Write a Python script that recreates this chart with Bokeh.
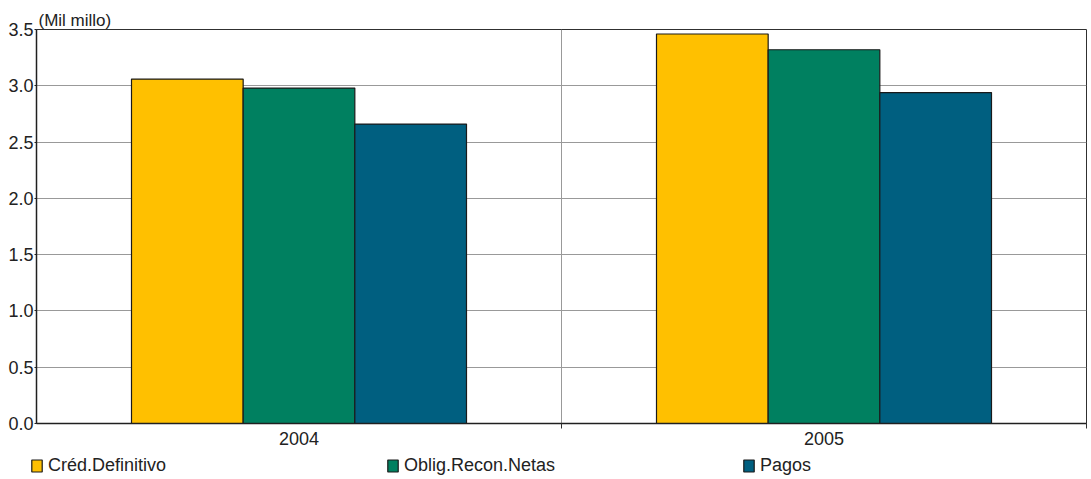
from bokeh.plotting import figure
from bokeh.layouts import column
from bokeh.models import (ColumnDataSource, FixedTicker, PrintfTickFormatter,
                          Legend, LegendItem, Range1d)
from bokeh.embed import file_html
from bokeh.resources import INLINE

years = ["2004", "2005"]
cred_definitivo = [3.06, 3.46]
oblig_recon_netas = [2.98, 3.32]
pagos = [2.66, 2.94]
series_names = ["Créd.Definitivo", "Oblig.Recon.Netas", "Pagos"]
colors = ["#FFC000", "#008060", "#005F80"]
y_ticks = [0.0, 0.5, 1.0, 1.5, 2.0, 2.5, 3.0, 3.5]
unit_label = "(Mil millo)"

FONT = "Liberation Sans"
BAR_W = 0.2127
TXT = "#222222"

p = figure(width=1091, height=452, output_backend="svg", toolbar_location=None,
           x_range=Range1d(0, len(years)), y_range=Range1d(0, 3.5),
           min_border_left=36, min_border_right=5, min_border_top=29, min_border_bottom=29,
           title=unit_label)
p.background_fill_color = "white"
p.border_fill_color = "white"
p.outline_line_color = "#303030"
p.outline_line_width = 1

p.title.text_font = FONT
p.title.text_font_size = "17px"
p.title.text_font_style = "normal"
p.title.text_color = TXT
p.title.align = "left"
p.title.offset = 2
p.title.standoff = 0

centers = [i + 0.5 for i in range(len(years))]
for k, (vals, col) in enumerate(zip([cred_definitivo, oblig_recon_netas, pagos], colors)):
    src = ColumnDataSource(dict(x=[c + (k - 1) * BAR_W for c in centers], top=vals))
    p.vbar(x="x", top="top", width=BAR_W, bottom=0, source=src,
           fill_color=col, line_color="#1a1a1a", line_width=1.2)

# x axis
p.xaxis.ticker = FixedTicker(ticks=centers, minor_ticks=[1, 2])
p.xaxis.major_label_overrides = {c: y for c, y in zip(centers, years)}
p.xaxis.major_tick_line_color = None
p.xaxis.minor_tick_line_color = "#303030"
p.xaxis.minor_tick_out = 5
p.xaxis.minor_tick_in = 0
p.xaxis.axis_line_color = "#202020"
p.xaxis.axis_line_width = 1.5
p.xaxis.major_label_text_font = FONT
p.xaxis.major_label_text_font_size = "18px"
p.xaxis.major_label_text_color = TXT
p.xaxis.major_label_standoff = 2
p.xgrid.ticker = FixedTicker(ticks=[1])
p.xgrid.grid_line_color = "#999999"
p.xgrid.grid_line_width = 1

# y axis
p.yaxis.ticker = FixedTicker(ticks=y_ticks)
p.yaxis.formatter = PrintfTickFormatter(format="%.1f")
p.yaxis.major_tick_line_color = "#202020"
p.yaxis.major_tick_out = 2
p.yaxis.major_tick_in = 0
p.yaxis.minor_tick_line_color = None
p.yaxis.axis_line_color = "#202020"
p.yaxis.axis_line_width = 1.5
p.yaxis.major_label_text_font = FONT
p.yaxis.major_label_text_font_size = "18px"
p.yaxis.major_label_text_color = TXT
p.yaxis.major_label_standoff = 1
p.ygrid.grid_line_color = "#999999"
p.ygrid.grid_line_width = 1

# legend strip below the chart
lgf = figure(width=1091, height=27, output_backend="svg", toolbar_location=None,
             x_range=Range1d(0, 1), y_range=Range1d(0, 1),
             min_border_left=0, min_border_right=0,
             min_border_top=0, min_border_bottom=0)
lgf.frame_align = False
lgf.axis.visible = False
lgf.grid.visible = False
lgf.outline_line_color = None
lgf.background_fill_color = "white"
lgf.border_fill_color = "white"
items = []
for name, col in zip(series_names, colors):
    r = lgf.vbar(x=[0.5], top=[1], width=0.1, fill_color=col, line_color="#1a1a1a",
                 line_width=1.2, visible=False)
    items.append(LegendItem(label=name, renderers=[r]))
lg = Legend(items=items, location=(30, 3), orientation="horizontal",
            padding=0, margin=0, spacing=0,
            glyph_width=13, glyph_height=15, label_standoff=5, label_height=15, label_width=338,
            label_text_font=FONT, label_text_font_size="18px", label_text_color=TXT,
            inactive_fill_alpha=0,
            border_line_color=None, background_fill_alpha=0)
lgf.add_layout(lg, "center")

layout = column(p, lgf, spacing=0)
open("out.html", "w").write(file_html(layout, INLINE))
